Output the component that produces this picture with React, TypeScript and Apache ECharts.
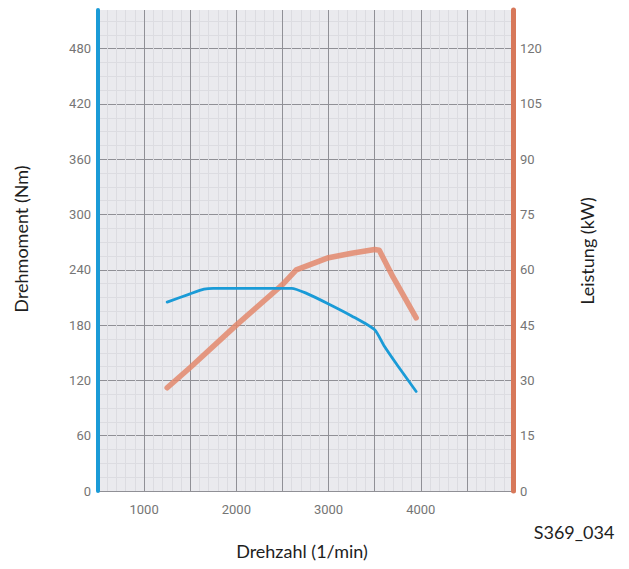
import React, { useEffect, useRef } from "react";
import * as echarts from "echarts";

const torqueRpm = [1250, 1500, 1650, 1750, 2000, 2250, 2500, 2600, 2750, 3000, 3250, 3500, 3600, 3750, 3950];
const torqueNm = [205, 214, 219, 220, 220, 220, 220, 220, 215, 203, 190, 175, 158, 136, 108];
const powerRpm = [1250, 1500, 2000, 2500, 2650, 3000, 3250, 3500, 3550, 3700, 3950];
const powerKw = [28, 33.5, 45, 56, 60, 63.3, 64.5, 65.5, 65.3, 58, 47];
const xTicks = [1000, 2000, 3000, 4000];

const labelFont = "'Liberation Sans Narrow', 'Roboto', 'DejaVu Sans', sans-serif";
const nameFont = "Lato, 'Open Sans', sans-serif";

export default function App() {
  const ref = useRef<HTMLDivElement>(null);
  useEffect(() => {
    if (!ref.current) return;
    const chart = echarts.init(ref.current, undefined, { renderer: "svg" });
    const leftMax = 522;
    chart.setOption({
      animation: false,
      backgroundColor: "#ffffff",
      grid: {
        left: 98,
        right: 116,
        top: 10,
        bottom: 78,
        show: true,
        backgroundColor: "#eaeaee",
        borderWidth: 0,
      },
      xAxis: {
        type: "value",
        min: 500,
        max: 5000,
        interval: 500,
        axisLine: { show: false },
        axisTick: { show: false },
        axisLabel: {
          color: "#757575",
          fontSize: 13,
          fontFamily: labelFont,
          margin: 12,
          formatter: (v: number) => (xTicks.includes(v) ? String(v) : ""),
        },
        splitLine: { show: true, lineStyle: { color: "#909096", width: 1 } },
        minorTick: { show: false, splitNumber: 5 },
        minorSplitLine: { show: true, lineStyle: { color: "#dcdce1", width: 1 } },
      },
      yAxis: [
        {
          type: "value",
          min: 0,
          max: leftMax,
          interval: 60,
          position: "left",
          axisLine: { show: true, lineStyle: { color: "#1a9bd7", width: 4 } },
          axisTick: { show: false },
          axisLabel: {
            color: "#757575",
            fontSize: 13,
            fontFamily: labelFont,
            margin: 7,
            showMaxLabel: false,
            formatter: (v: number) => (v % 60 === 0 ? String(v) : ""),
          },
          splitLine: { show: true, showMaxLine: false, lineStyle: { color: "#909096", width: 1 } },
          minorTick: { show: false, splitNumber: 4 },
          minorSplitLine: { show: true, lineStyle: { color: "#dcdce1", width: 1 } },
        },
        {
          type: "value",
          min: 0,
          max: leftMax / 4,
          interval: 15,
          position: "right",
          axisLine: { show: true, lineStyle: { color: "#d7785a", width: 5 } },
          axisTick: { show: false },
          axisLabel: {
            color: "#757575",
            fontSize: 13,
            fontFamily: labelFont,
            margin: 7,
            showMaxLabel: false,
            formatter: (v: number) => (v % 15 === 0 ? String(v) : ""),
          },
          splitLine: { show: false },
        },
      ],
      series: [
        {
          type: "line",
          yAxisIndex: 1,
          data: powerRpm.map((r, i) => [r, powerKw[i]]),
          showSymbol: false,
          smooth: false,
          lineStyle: { color: "#e3886c", width: 5.5, opacity: 0.85, cap: "round", join: "round" },
          z: 3,
        },
        {
          type: "line",
          yAxisIndex: 0,
          data: torqueRpm.map((r, i) => [r, torqueNm[i]]),
          showSymbol: false,
          smooth: 0.2,
          lineStyle: { color: "#1a9bd7", width: 2.8, cap: "round", join: "round" },
          z: 4,
        },
      ],
      graphic: [
        {
          type: "text",
          x: 21,
          y: 239,
          rotation: Math.PI / 2,
          style: {
            text: "Drehmoment (Nm)",
            fill: "#1e1e1e",
            font: `18px ${nameFont}`,
            align: "center",
            verticalAlign: "middle",
          },
        },
        {
          type: "text",
          x: 587,
          y: 251,
          rotation: Math.PI / 2,
          style: {
            text: "Leistung (kW)",
            fill: "#1e1e1e",
            font: `18px ${nameFont}`,
            align: "center",
            verticalAlign: "middle",
          },
        },
        {
          type: "text",
          x: 302,
          y: 551,
          style: {
            text: "Drehzahl (1/min)",
            fill: "#1e1e1e",
            font: `18px ${nameFont}`,
            align: "center",
            verticalAlign: "middle",
          },
        },
        {
          type: "text",
          x: 574,
          y: 532,
          style: {
            text: "S369_034",
            fill: "#1e1e1e",
            font: `18px ${nameFont}`,
            align: "center",
            verticalAlign: "middle",
          },
        },
      ],
    });
    return () => chart.dispose();
  }, []);
  return (
    <div
      ref={ref}
      style={{ position: "fixed", left: 0, top: 0, width: 629, height: 569 }}
    />
  );
}
